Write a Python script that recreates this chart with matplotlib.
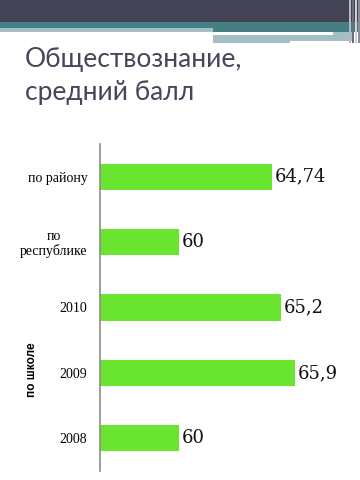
import matplotlib.pyplot as plt
from matplotlib.patches import Rectangle

categories = ['по району', 'по\nреспублике', '2010', '2009', '2008']
values = [64.74, 60, 65.2, 65.9, 60]
value_labels = ['64,74', '60', '65,2', '65,9', '60']

W, H = 360, 480
fig = plt.figure(figsize=(3.6, 4.8), dpi=100)

# header stripes (pixel rectangles -> figure coords)
def band(x0, y0, x1, y1, color):
    fig.patches.append(Rectangle((x0 / W, 1 - y1 / H), (x1 - x0) / W, (y1 - y0) / H,
                                 transform=fig.transFigure, color=color, lw=0, zorder=0))

band(0, 0, 360, 22, '#424456')
band(0, 22, 360, 28, '#457f84')
band(0, 28, 213, 32, '#a3bfc3')
band(213, 28, 360, 32, '#457f84')
band(213, 32, 333, 35, '#ffffff')
band(333, 32, 353, 35, '#a3bfc3')
band(213, 35, 290, 43, '#a3bfc3')
band(290, 35, 353, 41, '#a3bfc3')
for xs, c in [(349, '#b8b8c4'), (352, '#6a6c7c'), (355, '#d0d0d8'), (358, '#8a8c98')]:
    band(xs, 0, xs + 2, 43, c)

fig.text(25 / W, 1 - 67 / H, 'Обществознание,', fontsize=19, family='Lato',
         color='#44465a', va='baseline', ha='left')
fig.text(25 / W, 1 - 100 / H, 'средний балл', fontsize=19, family='Lato',
         color='#44465a', va='baseline', ha='left')

ax = fig.add_axes([100 / W, 1 - 471 / H, 256 / W, 327 / H])
pos = list(range(len(categories)))[::-1]
ax.barh(pos, [v - 56 for v in values], left=56, height=0.4, color='#69e52f')
for p, v, lab in zip(pos, values, value_labels):
    ax.text(v + 0.15, p, lab, fontsize=13, family='DejaVu Serif',
            va='center', ha='left', color='#111111')

ax.set_xlim(56, 69)
ax.set_ylim(-0.5, 4.5)
ax.set_yticks(pos)
ax.set_yticklabels(categories, fontsize=10, family='Liberation Serif',
                   linespacing=1.05, multialignment='center')
ax.tick_params(axis='y', length=0, pad=9)
ax.set_xticks([])
for s in ['top', 'right', 'bottom']:
    ax.spines[s].set_visible(False)
ax.spines['left'].set_color('#8c8c8c')
ax.spines['left'].set_linewidth(1.2)
ax.patch.set_alpha(0)

fig.text(32 / W, 1 - 370 / H, 'по школе', rotation=90, fontsize=8.5, fontweight='bold',
         family='Liberation Sans', va='center', ha='center')

fig.savefig('out.png', dpi=100)
